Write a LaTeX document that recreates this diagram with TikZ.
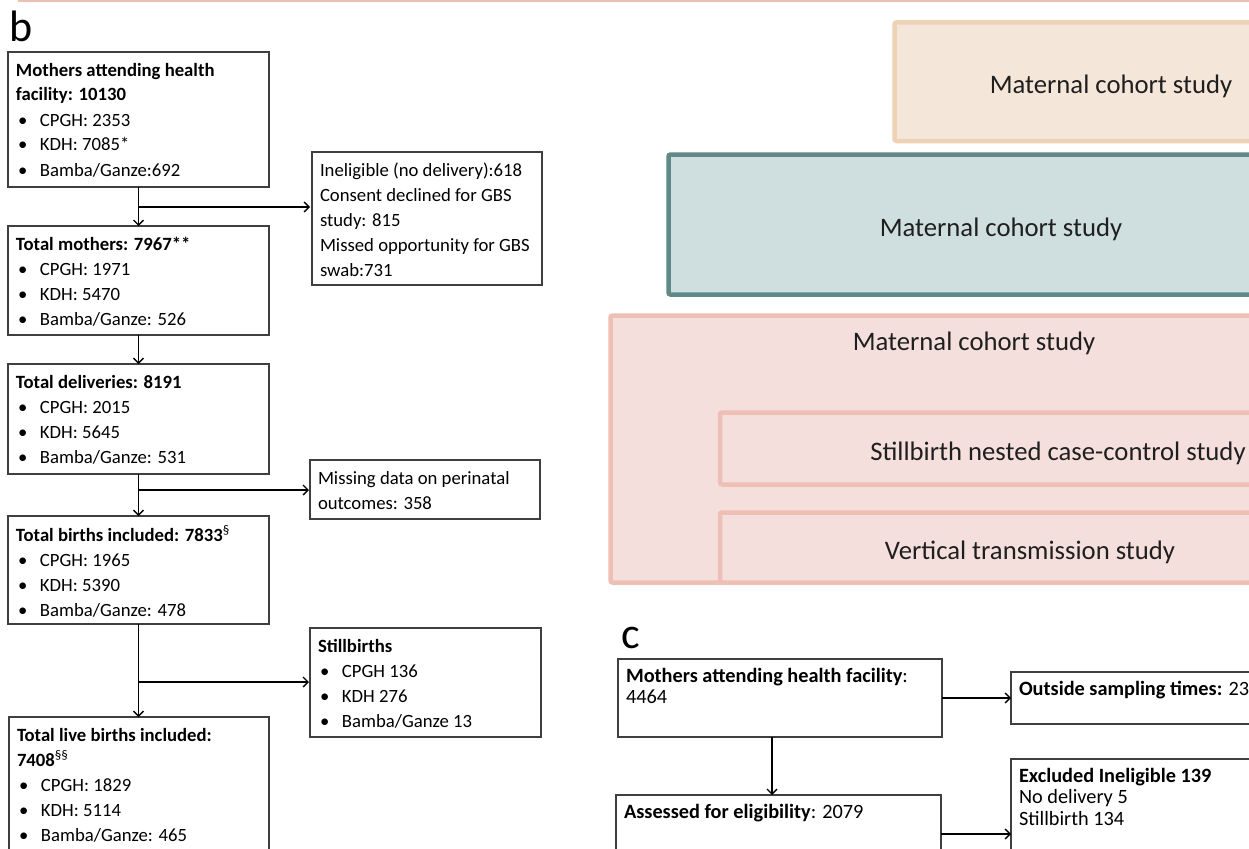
\documentclass[tikz,border=0pt]{standalone}
\usepackage{fontspec}
\setmainfont{Carlito}
\usepackage{tikz}
\usetikzlibrary{calc}
\usetikzlibrary{positioning}
\usetikzlibrary{arrows.meta}

\definecolor{boxgrey}{HTML}{3F3F3F}
\definecolor{tanfill}{HTML}{F5E6DA}
\definecolor{tanline}{HTML}{EDD2B3}
\definecolor{tealfill}{HTML}{CFDEDF}
\definecolor{tealline}{HTML}{5F8A87}
\definecolor{pinkfill}{HTML}{F4DFDC}
\definecolor{pinkline}{HTML}{EDBFB5}

\newcommand{\itm}[1]{\hspace*{2pt}\makebox[22pt][l]{\textbullet}#1}
\newcommand{\boxtext}[3]{\parbox[c][#2][t]{#1}{\raggedright\rule{0pt}{14pt}#3}}

\tikzset{
	flowbox/.style={draw=boxgrey, line width=1.3pt, fill=white, anchor=north west, inner xsep=8pt, inner ysep=10pt, outer sep=0pt, text=black, font=\fontsize{18.7}{25}\selectfont},
	cbox/.style={flowbox, inner ysep=9pt, font=\fontsize{20.3}{21.5}\selectfont},
	studybox/.style={line width=4.5pt, rounded corners=2pt, anchor=north west, inner sep=0pt, outer sep=0pt, text=black!88, text height=23pt, text depth=0pt, font=\fontsize{26.7}{30}\selectfont},
	flowarrow/.style={->, line width=1.3pt, draw=black},
	panel/.style={font=\fontsize{44}{44}\selectfont, inner sep=0pt, anchor=base west},
	>={Straight Barb[length=5pt, width=10pt]}
}

\begin{document}
\begin{tikzpicture}[x=1pt, y=-1pt]
				\useasboundingbox (0,0) rectangle (1249,848);
				\fill[white] (0,0) rectangle (1249,848);
				\clip (0,0) rectangle (1249,848);
				\draw[pinkline, line width=2pt] (18,0.8) -- (1260,0.8);

				% panel b
				\node[panel] (lb) at (9,42) {b};
				\node[flowbox] (m1) at (8,52) {\boxtext{245pt}{115pt}{\textbf{Mothers attending health}\\ \textbf{facility: 10130}\\ \itm{CPGH: 2353}\\ \itm{KDH: 7085*}\\ \itm{Bamba/Ganze:692}}};
				\node[flowbox] (m2) at (8,226) {\boxtext{245pt}{89pt}{\textbf{Total mothers: 7967**}\\ \itm{CPGH: 1971}\\ \itm{KDH: 5470}\\ \itm{Bamba/Ganze: 526}}};
				\node[flowbox] (m3) at (8,364) {\boxtext{245pt}{90pt}{\textbf{Total deliveries: 8191}\\ \itm{CPGH: 2015}\\ \itm{KDH: 5645}\\ \itm{Bamba/Ganze: 531}}};
				\node[flowbox] (m4) at (8,516) {\boxtext{245pt}{88pt}{\textbf{Total births included: 7833}\textsuperscript{§}\\ \itm{CPGH: 1965}\\ \itm{KDH: 5390}\\ \itm{Bamba/Ganze: 478}}};
				\node[flowbox] (m5) at (9,717) {\boxtext{244pt}{150pt}{\textbf{Total live births included:}\\ \textbf{7408}\textsuperscript{§§}\\ \itm{CPGH: 1829}\\ \itm{KDH: 5114}\\ \itm{Bamba/Ganze: 465}}};

				\node[flowbox] (inel) at (312,152) {\boxtext{214pt}{113pt}{Ineligible (no delivery):618\\ Consent declined for GBS\\ study: 815\\ Missed opportunity for GBS\\ swab:731}};
				\node[flowbox] (miss) at (310,460) {\boxtext{214pt}{39pt}{Missing data on perinatal\\ outcomes: 358}};
				\node[flowbox] (still) at (310,628) {\boxtext{215pt}{89pt}{\textbf{Stillbirths}\\ \itm{CPGH 136}\\ \itm{KDH 276}\\ \itm{Bamba/Ganze 13}}};

				\coordinate (j1) at (138.5,207);
				\coordinate (j2) at (138.5,490);
				\coordinate (j3) at (138.5,682);
				\draw[flowarrow] (m1) -- (m2);
				\draw[flowarrow] (j1) -- ([xshift=-2pt]j1 -| inel.west);
				\draw[flowarrow] (m2) -- (m3);
				\draw[flowarrow] (m3) -- (m4);
				\draw[flowarrow] (j2) -- ([xshift=-1pt]j2 -| miss.west);
				\draw[flowarrow] (m4.south) -- (m4.south |- m5.north);
				\draw[flowarrow] (j3) -- ([xshift=-1pt]j3 -| still.west);

				% study boxes
				\node[studybox, fill=tanfill, draw=tanline, minimum width=433pt, minimum height=118.5pt] (tan) at (894.5,22.5) {Maternal cohort study};
				\node[studybox, fill=tealfill, draw=tealline, minimum width=665pt, minimum height=140pt] (teal) at (668.5,154.5) {Maternal cohort study};
				\node[studybox, fill=pinkfill, draw=pinkline, minimum width=727pt, minimum height=267pt] (pink) at (610.5,315.5) {};
				\node[studybox, below=12pt of pink.north, anchor=north] (mctitle) {Maternal cohort study};
				\node[studybox, fill=pinkfill, draw=pinkline, minimum width=676pt, minimum height=72pt] (nested) at (720,412.5) {Stillbirth nested case-control study};
				\node[studybox, fill=pinkfill, draw=pinkline, minimum width=620pt, minimum height=70pt] (vertical) at (720,512.5) {Vertical transmission study};

				% panel c
				\node[panel] (lc) at (621,648) {c};
				\node[cbox] (cm) at (618,659) {\boxtext{308pt}{60pt}{\textbf{Mothers attending health facility}:\\ 4464}};
				\node[cbox] (ca) at (616,795) {\boxtext{309pt}{120pt}{\textbf{Assessed for eligibility}: 2079}};
				\node[cbox] (co) at (1011,672) {\boxtext{300pt}{34pt}{\textbf{Outside sampling times:} 23}};
				\node[cbox] (ce) at (1011,759) {\boxtext{300pt}{120pt}{\textbf{Excluded Ineligible 139}\\ No delivery 5\\ Stillbirth 134}};

				\draw[flowarrow] ([xshift=-8pt]cm.south) -- ([xshift=-8pt]cm.south |- ca.north);
				\draw[flowarrow] (cm.east) -- (cm.east -| co.west);
				\draw[flowarrow] ([yshift=-39pt]ca.north east) -- ([yshift=-39pt]ca.north east -| ce.west);
			\end{tikzpicture}
\end{document}
